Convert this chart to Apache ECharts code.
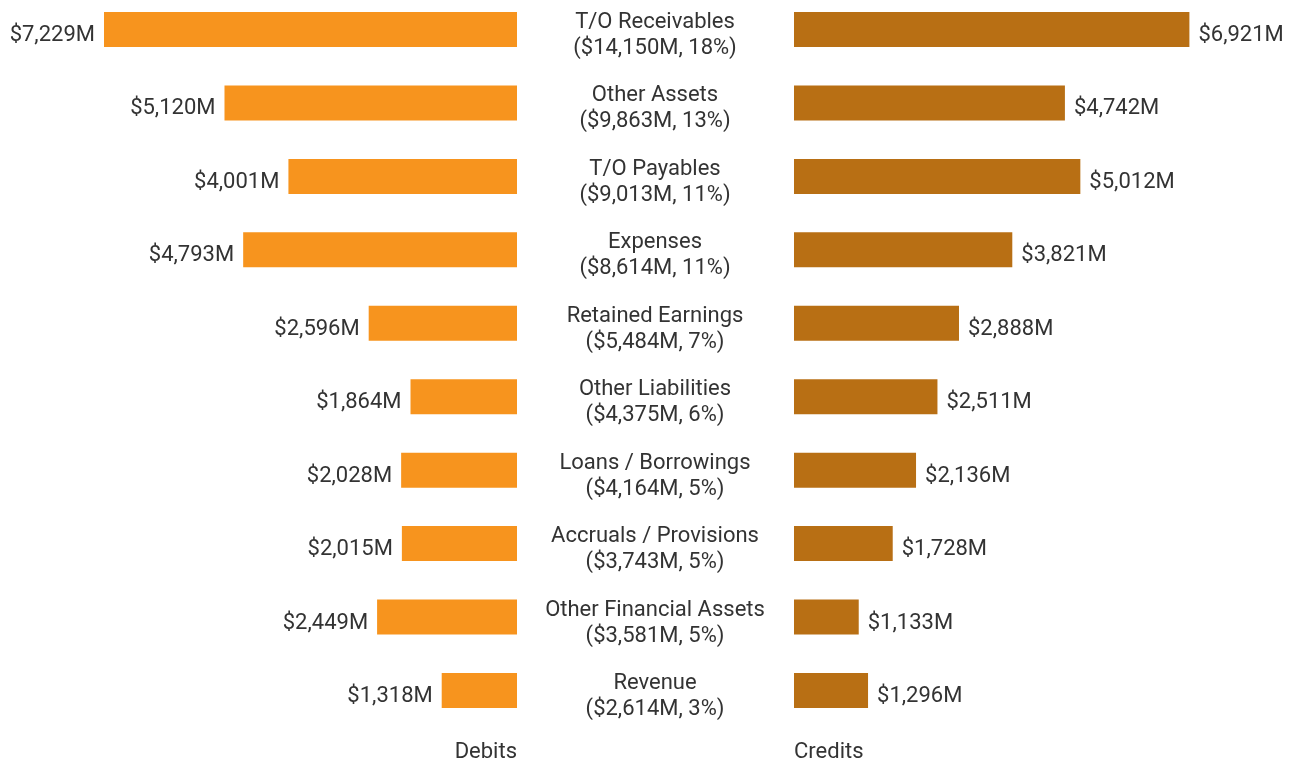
<!DOCTYPE html>
<html>
<head>
<meta charset="utf-8">
<script src="https://cdn.jsdelivr.net/npm/echarts@6/dist/echarts.min.js"></script>
<style>
  html, body { margin: 0; padding: 0; background: #fff; }
  #chart { width: 1290px; height: 763px; }
</style>
</head>
<body>
<div id="chart"></div>
<script>
// accounts, top to bottom
var categories = ['T/O Receivables', 'Other Assets', 'T/O Payables', 'Expenses', 'Retained Earnings',
    'Other Liabilities', 'Loans / Borrowings', 'Accruals / Provisions', 'Other Financial Assets', 'Revenue'];
var debits = [7229, 5120, 4001, 4793, 2596, 1864, 2028, 2015, 2449, 1318];
var credits = [6921, 4742, 5012, 3821, 2888, 2511, 2136, 1728, 1133, 1296];
var totals = [14150, 9863, 9013, 8614, 5484, 4375, 4164, 3743, 3581, 2614];
var shares = [18, 13, 11, 11, 7, 6, 5, 5, 5, 3];

var fontFamily = 'Roboto, "Noto Sans", sans-serif';
var textColor = '#333333';
var fontSize = 22;
var maxVal = Math.max.apply(null, debits.concat(credits));

function money(v) {
    return '$' + v.toLocaleString('en-US') + 'M';
}

var myChart = echarts.init(document.getElementById('chart'));

// category points sit on the grid edges (boundaryGap off), first row at y=29.5, last at 690.5
var option = {
    animation: false,
    textStyle: { fontFamily: fontFamily },
    title: [
        {
            text: 'Debits',
            right: 768,
            top: 736,
            textStyle: { fontFamily: fontFamily, fontSize: fontSize, fontWeight: 'normal', color: textColor }
        },
        {
            text: 'Credits',
            left: 789,
            top: 736,
            textStyle: { fontFamily: fontFamily, fontSize: fontSize, fontWeight: 'normal', color: textColor }
        }
    ],
    grid: [
        { left: 104, width: 413, top: 29.5, height: 661, outerBoundsMode: 'none', containLabel: false },
        { left: 794, width: 413, top: 29.5, height: 661, outerBoundsMode: 'none', containLabel: false }
    ],
    xAxis: [
        { gridIndex: 0, type: 'value', min: 0, max: maxVal, inverse: true, show: false },
        { gridIndex: 1, type: 'value', min: 0, max: maxVal, show: false }
    ],
    yAxis: [
        {
            gridIndex: 0, type: 'category', data: categories, inverse: true, boundaryGap: false,
            axisLine: { show: false }, axisTick: { show: false }, axisLabel: { show: false },
            splitLine: { show: false }
        },
        {
            gridIndex: 1, type: 'category', data: categories, inverse: true, boundaryGap: false,
            position: 'left',
            axisLine: { show: false }, axisTick: { show: false }, splitLine: { show: false },
            axisLabel: {
                margin: 139,
                align: 'center',
                fontSize: fontSize,
                lineHeight: 26,
                color: textColor,
                fontFamily: fontFamily,
                // small empty first line pushes the two text lines a bit below the bar centre
                rich: {
                    gap: { lineHeight: 12, fontSize: 4 }
                },
                formatter: function (value, idx) {
                    return '{gap| }\n' + value + '\n(' + money(totals[idx]) + ', ' + shares[idx] + '%)';
                }
            }
        }
    ],
    series: [
        {
            name: 'Debits',
            type: 'bar',
            xAxisIndex: 0,
            yAxisIndex: 0,
            barWidth: 35,
            itemStyle: { color: '#F7941E' },
            label: {
                show: true,
                position: 'left',
                distance: 9,
                offset: [0, 6],
                fontSize: fontSize,
                color: textColor,
                fontFamily: fontFamily,
                formatter: function (p) { return money(p.value); }
            },
            data: debits
        },
        {
            name: 'Credits',
            type: 'bar',
            xAxisIndex: 1,
            yAxisIndex: 1,
            barWidth: 35,
            itemStyle: { color: '#B86F14' },
            label: {
                show: true,
                position: 'right',
                distance: 9,
                offset: [0, 6],
                fontSize: fontSize,
                color: textColor,
                fontFamily: fontFamily,
                formatter: function (p) { return money(p.value); }
            },
            data: credits
        }
    ]
};
myChart.setOption(option);
</script>
</body>
</html>
